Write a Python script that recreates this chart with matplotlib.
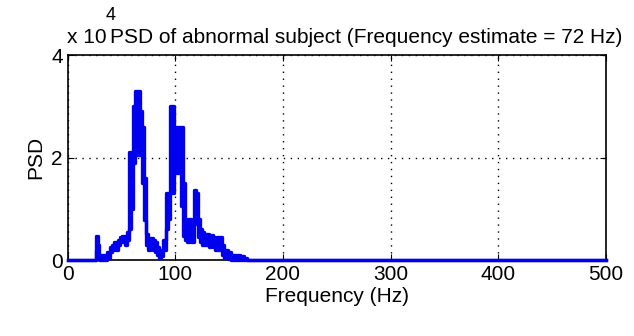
import matplotlib
matplotlib.use("Agg")
import matplotlib.pyplot as plt
import numpy as np

# Data (PSD in units of 1e4)
freq_hz = [0, 26, 27, 28, 29, 30, 33, 36, 38, 40, 42, 44, 46, 48, 50, 52, 54, 56, 58, 60,
           62, 64, 66, 68, 70, 72, 74, 76, 78, 80, 82, 84, 86, 88, 90, 92, 94, 96, 98, 100,
           102, 104, 106, 108, 110, 112, 114, 116, 118, 120, 122, 124, 126, 128, 130, 132,
           134, 136, 138, 140, 142, 144, 146, 148, 150, 154, 158, 162, 165, 168, 500]
psd_upper = [0, 0, 0.46, 0.46, 0.3, 0.1, 0.1, 0.05, 0.15, 0.26, 0.3, 0.36, 0.3, 0.4, 0.45,
             0.46, 0.42, 0.55, 2.1, 2.1, 3.0, 3.3, 3.3, 2.9, 2.6, 1.6, 0.5, 0.4, 0.43, 0.4,
             0.35, 0.25, 0.15, 0.2, 0.4, 1.3, 1.3, 3.0, 3.0, 2.6, 2.6, 2.6, 2.6, 1.5, 0.8,
             0.78, 0.8, 0.75, 1.37, 1.3, 0.8, 0.6, 0.55, 0.5, 0.5, 0.45, 0.48, 0.45, 0.4,
             0.45, 0.45, 0.3, 0.2, 0.2, 0.15, 0.1, 0.1, 0.08, 0.05, 0, 0]
psd_lower = [0, 0, 0.2, 0.2, 0.05, 0, 0, 0, 0.05, 0.15, 0.2, 0.25, 0.2, 0.3, 0.35,
             0.35, 0.3, 0.4, 0.6, 1.0, 1.9, 2.05, 2.05, 2.05, 1.5, 0.78, 0.3, 0.2, 0.22, 0.2,
             0.15, 0.1, 0.05, 0.08, 0.2, 0.6, 0.8, 1.3, 1.3, 1.7, 1.7, 1.7, 1.05, 0.46, 0.4,
             0.35, 0.4, 0.35, 0.75, 0.7, 0.45, 0.35, 0.3, 0.3, 0.3, 0.25, 0.3, 0.25, 0.2,
             0.2, 0.2, 0.1, 0.05, 0.05, 0.03, 0, 0, 0, 0, 0, 0]
x_ticks = [0, 100, 200, 300, 400, 500]
y_ticks = [0, 2, 4]

plt.rcParams['font.family'] = ['Liberation Sans', 'DejaVu Sans']

fig = plt.figure(figsize=(6.34, 3.36), dpi=100)
ax = fig.add_axes([0.1065, 0.226, 0.8495, 0.61])

blue = '#0000ee'
ax.fill_between(freq_hz, psd_lower, psd_upper, step='mid', color=blue, lw=0, zorder=3)
ax.step(freq_hz, psd_upper, where='mid', color=blue, lw=2.4, zorder=3, clip_on=False)
ax.step(freq_hz, psd_lower, where='mid', color=blue, lw=2.4, zorder=3, clip_on=False)

ax.set_xlim(0, 500)
ax.set_ylim(0, 4)
ax.set_xticks(x_ticks)
ax.set_yticks(y_ticks)
ax.grid(True, color='black', linestyle=(0, (1, 4)), linewidth=1)
ax.set_axisbelow(True)
ax.tick_params(direction='in', top=True, right=True, labelsize=15, length=4)
for s in ax.spines.values():
    s.set_linewidth(1.2)

ax.set_xlabel('Frequency (Hz)', fontsize=15, labelpad=2)
ax.set_ylabel('PSD', fontsize=15, labelpad=4)

fig.text(0.106, 0.873, 'x 10', fontsize=15, ha='left', va='baseline')
fig.text(0.166, 0.94, '4', fontsize=13, ha='left', va='baseline')
fig.text(0.174, 0.873, 'PSD of abnormal subject (Frequency estimate = 72 Hz)', fontsize=15,
         ha='left', va='baseline')

fig.savefig('out.png', dpi=100)
